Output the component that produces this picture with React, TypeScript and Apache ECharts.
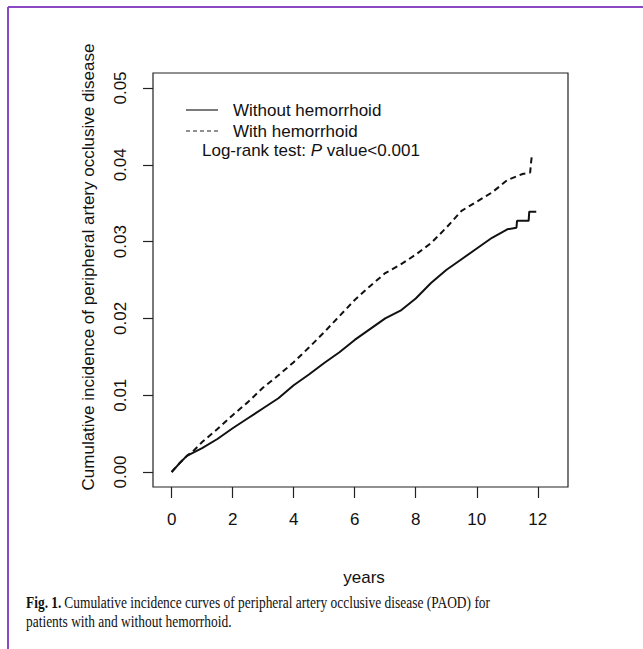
import React, { useEffect, useRef } from "react";
import * as echarts from "echarts";

const xTicks = [0, 2, 4, 6, 8, 10, 12];
const yTicks = [0, 0.01, 0.02, 0.03, 0.04, 0.05];

const withoutYears = [0, 0.25, 0.5, 1, 1.5, 2, 2.5, 3, 3.5, 4, 4.5, 5, 5.5, 6, 6.5, 7, 7.5, 8, 8.5, 9, 9.5, 10, 10.5, 11, 11.3, 11.32, 11.7, 11.72, 11.95];
const withoutValues = [0, 0.0011, 0.0021, 0.0031, 0.0043, 0.0057, 0.007, 0.0083, 0.0096, 0.0113, 0.0127, 0.0142, 0.0156, 0.0172, 0.0186, 0.02, 0.021, 0.0226, 0.0246, 0.0263, 0.0277, 0.0291, 0.0305, 0.0316, 0.0318, 0.0327, 0.0327, 0.0339, 0.0339];

const withYears = [0, 0.25, 0.5, 0.7, 1, 1.5, 2, 2.5, 3, 3.5, 4, 4.5, 5, 5.5, 6, 6.5, 7, 7.5, 8, 8.5, 9, 9.5, 10, 10.5, 11, 11.5, 11.75, 11.78, 11.8];
const withValues = [0, 0.0011, 0.0021, 0.0027, 0.0039, 0.0056, 0.0074, 0.0091, 0.011, 0.0126, 0.0143, 0.0162, 0.0182, 0.0203, 0.0224, 0.0242, 0.0259, 0.027, 0.0283, 0.0298, 0.0318, 0.034, 0.0352, 0.0364, 0.038, 0.0388, 0.039, 0.0403, 0.041];

const seriesNames = ["Without hemorrhoid", "With hemorrhoid"];
const yTitle = "Cumulative incidence of peripheral artery occlusive disease";
const xTitle = "years";
const captionLine1 = "Cumulative incidence curves of peripheral artery occlusive disease (PAOD) for";
const captionLine2 = "patients with and without hemorrhoid.";

export default function App() {
  const ref = useRef<HTMLDivElement>(null);
  useEffect(() => {
    if (!ref.current) return;
    const chart = echarts.init(ref.current, undefined, { renderer: "svg" });
    const sans = "Liberation Sans, Arial, sans-serif";
    const serif = "Liberation Serif, Times New Roman, serif";
    const fs = 17;
    const purple = "#8b47c4";
    const capScale = 0.84;
    chart.setOption({
      animation: false,
      backgroundColor: "#ffffff",
      grid: {
        left: 153,
        top: 73,
        width: 415,
        height: 414,
        show: true,
        borderColor: "#222",
        borderWidth: 1.2,
        backgroundColor: "transparent",
      },
      xAxis: {
        type: "value",
        min: -0.61,
        max: 12.99,
        axisLine: { show: false, onZero: false },
        splitLine: { show: false },
        axisTick: { show: true, customValues: xTicks, length: 11, lineStyle: { color: "#222", width: 1.2 } },
        axisLabel: { customValues: xTicks, margin: 24, fontSize: fs, fontFamily: sans, color: "#111" },
      },
      yAxis: {
        type: "value",
        min: -0.00195,
        max: 0.05195,
        axisLine: { show: false, onZero: false },
        splitLine: { show: false },
        axisTick: { show: true, customValues: yTicks, length: 10, lineStyle: { color: "#222", width: 1.2 } },
        axisLabel: {
          customValues: yTicks,
          rotate: 90,
          margin: 24,
          fontSize: fs,
          fontFamily: sans,
          color: "#111",
          formatter: (v: number) => v.toFixed(2),
        },
      },
      series: [
        {
          name: seriesNames[0],
          type: "line",
          showSymbol: false,
          data: withoutYears.map((x, i) => [x, withoutValues[i]]),
          lineStyle: { color: "#111", width: 2 },
        },
        {
          name: seriesNames[1],
          type: "line",
          showSymbol: false,
          data: withYears.map((x, i) => [x, withValues[i]]),
          lineStyle: { color: "#111", width: 2, type: [6, 4] },
        },
      ],
      graphic: [
        { type: "line", shape: { x1: 8, y1: 7, x2: 643, y2: 7 }, style: { stroke: purple, lineWidth: 2 } },
        { type: "line", shape: { x1: 8, y1: 7, x2: 8, y2: 649 }, style: { stroke: purple, lineWidth: 2 } },
        { type: "line", shape: { x1: 186, y1: 110, x2: 218, y2: 110 }, style: { stroke: "#222", lineWidth: 1.2 } },
        { type: "line", shape: { x1: 186, y1: 131, x2: 218, y2: 131 }, style: { stroke: "#222", lineWidth: 1.2, lineDash: [4, 3] } },
        {
          type: "text",
          x: 233,
          y: 110,
          style: { text: seriesNames[0], font: `${fs}px ${sans}`, fill: "#111", textVerticalAlign: "middle" },
        },
        {
          type: "text",
          x: 233,
          y: 131,
          style: { text: seriesNames[1], font: `${fs}px ${sans}`, fill: "#111", textVerticalAlign: "middle" },
        },
        {
          type: "text",
          x: 202,
          y: 150,
          style: {
            text: "{n|Log-rank test: }{i|P}{n| value<0.001}",
            verticalAlign: "middle",
            rich: {
              n: { fontSize: fs, fontFamily: sans, fill: "#111" },
              i: { fontSize: fs, fontFamily: sans, fontStyle: "italic", fill: "#111" },
            },
          },
        },
        {
          type: "text",
          x: 88,
          y: 267,
          rotation: Math.PI / 2,
          style: { text: yTitle, font: `${fs}px ${sans}`, fill: "#111", align: "center", verticalAlign: "middle" },
        },
        {
          type: "text",
          x: 364,
          y: 577,
          style: { text: xTitle, font: `${fs}px ${sans}`, fill: "#111", align: "center", verticalAlign: "middle" },
        },
        {
          type: "text",
          x: 26,
          y: 603,
          scaleX: capScale,
          style: {
            text: "{b|Fig. 1.} {n|" + captionLine1 + "}",
            verticalAlign: "middle",
            rich: {
              b: { fontSize: 16, fontFamily: serif, fontWeight: "bold", fill: "#111" },
              n: { fontSize: 16, fontFamily: serif, fill: "#111" },
            },
          },
        },
        {
          type: "text",
          x: 26,
          y: 622,
          scaleX: capScale,
          style: { text: captionLine2, font: `16px ${serif}`, fill: "#111", verticalAlign: "middle" },
        },
      ],
    });
    return () => chart.dispose();
  }, []);
  return <div ref={ref} style={{ position: "fixed", left: 0, top: 0, width: 643, height: 649 }} />;
}
